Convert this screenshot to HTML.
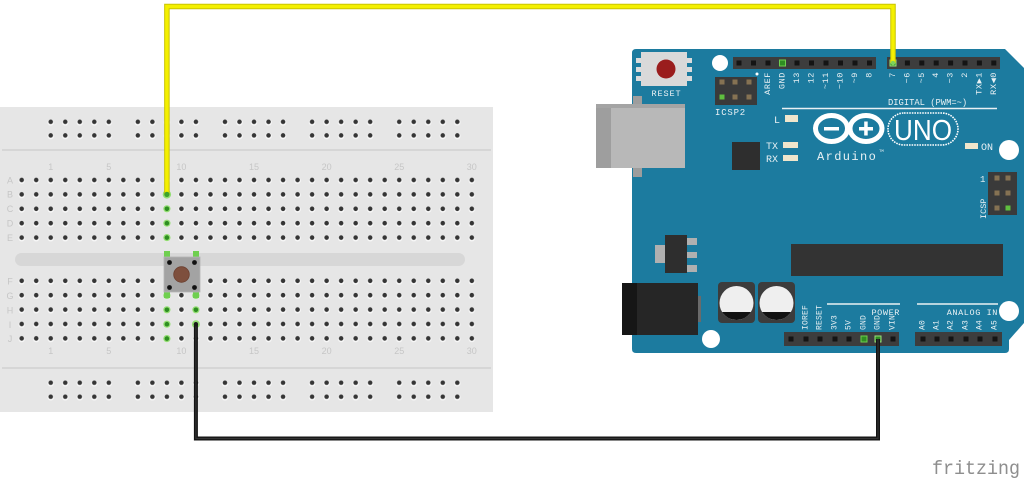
<!DOCTYPE html>
<html><head><meta charset="utf-8"><style>
html,body{margin:0;padding:0;background:#fff;}
svg{display:block;}
.m{font-family:"Liberation Mono",monospace;fill:#e9f1f4;}
.n{font-family:"Liberation Sans",sans-serif;fill:#c6c6c6;font-size:9px;}
</style></head><body>
<svg width="1024" height="485" viewBox="0 0 1024 485" xmlns="http://www.w3.org/2000/svg">
<defs>
<pattern id="h" x="14.44" y="172.8" width="14.52" height="14.4" patternUnits="userSpaceOnUse">
<circle cx="7.26" cy="7.8" r="3.2" fill="#f9f9f9"/><circle cx="7.26" cy="7.2" r="2.3" fill="#353535"/>
</pattern>
<pattern id="rt" x="14.44" y="115" width="14.52" height="13.6" patternUnits="userSpaceOnUse">
<circle cx="7.26" cy="7.4" r="3.2" fill="#f9f9f9"/><circle cx="7.26" cy="6.8" r="2.3" fill="#353535"/>
</pattern>
<pattern id="rb" x="14.44" y="375.7" width="14.52" height="14" patternUnits="userSpaceOnUse">
<circle cx="7.26" cy="7.6" r="3.2" fill="#f9f9f9"/><circle cx="7.26" cy="7" r="2.3" fill="#353535"/>
</pattern>
</defs>

<!-- Breadboard -->
<rect x="0" y="107" width="493" height="305" fill="#e6e6e6"/>
<line x1="2" y1="150" x2="491" y2="150" stroke="#d0d0d0" stroke-width="1.5"/>
<line x1="2" y1="368" x2="491" y2="368" stroke="#d0d0d0" stroke-width="1.5"/>
<rect x="15" y="253" width="450" height="13" rx="6.5" fill="#d7d7d7"/>

<!-- rails -->
<rect x="43.48" y="115" width="72.6" height="27.2" fill="url(#rt)"/>
<rect x="130.6" y="115" width="72.6" height="27.2" fill="url(#rt)"/>
<rect x="217.7" y="115" width="72.6" height="27.2" fill="url(#rt)"/>
<rect x="304.9" y="115" width="72.6" height="27.2" fill="url(#rt)"/>
<rect x="392.0" y="115" width="72.6" height="27.2" fill="url(#rt)"/>
<rect x="43.48" y="375.7" width="72.6" height="28" fill="url(#rb)"/>
<rect x="130.6" y="375.7" width="72.6" height="28" fill="url(#rb)"/>
<rect x="217.7" y="375.7" width="72.6" height="28" fill="url(#rb)"/>
<rect x="304.9" y="375.7" width="72.6" height="28" fill="url(#rb)"/>
<rect x="392.0" y="375.7" width="72.6" height="28" fill="url(#rb)"/>

<!-- main grid -->
<rect x="14.44" y="172.8" width="464.64" height="72" fill="url(#h)"/>
<rect x="14.44" y="273.6" width="464.64" height="72" fill="url(#h)"/>

<!-- row letters -->
<g class="n" text-anchor="middle">
<text x="10" y="183.5">A</text><text x="10" y="197.5">B</text><text x="10" y="212">C</text><text x="10" y="226.5">D</text><text x="10" y="241">E</text>
<text x="10" y="284.5">F</text><text x="10" y="299">G</text><text x="10" y="313.5">H</text><text x="10" y="328">I</text><text x="10" y="342">J</text>
<text x="50.7" y="170">1</text><text x="108.8" y="170">5</text><text x="181.4" y="170">10</text><text x="254" y="170">15</text><text x="326.6" y="170">20</text><text x="399.2" y="170">25</text><text x="471.8" y="170">30</text>
<text x="50.7" y="354">1</text><text x="108.8" y="354">5</text><text x="181.4" y="354">10</text><text x="254" y="354">15</text><text x="326.6" y="354">20</text><text x="399.2" y="354">25</text><text x="471.8" y="354">30</text>
</g>

<!-- green connected holes -->
<g>
<g fill="#93dd72"><circle cx="166.9" cy="208.8" r="3.6"/><circle cx="166.9" cy="223.2" r="3.6"/><circle cx="166.9" cy="237.6" r="3.6"/>
<circle cx="166.9" cy="309.8" r="3.6"/><circle cx="166.9" cy="324.2" r="3.6"/><circle cx="166.9" cy="338.6" r="3.6"/>
<circle cx="195.9" cy="309.8" r="3.6"/><circle cx="195.9" cy="324.2" r="4"/><circle cx="166.9" cy="194.4" r="4.2"/>
<circle cx="166.9" cy="295.4" r="3.6"/><circle cx="195.9" cy="295.4" r="3.6"/></g>
<g fill="#2f8e22"><circle cx="166.9" cy="208.8" r="2.3"/><circle cx="166.9" cy="223.2" r="2.3"/><circle cx="166.9" cy="237.6" r="2.3"/>
<circle cx="166.9" cy="309.8" r="2.3"/><circle cx="166.9" cy="324.2" r="2.3"/><circle cx="166.9" cy="338.6" r="2.3"/>
<circle cx="195.9" cy="309.8" r="2.3"/></g>
</g>

<!-- push button -->
<rect x="164" y="251" width="6" height="7" fill="#6fcf4f"/>
<rect x="193" y="251" width="6" height="7" fill="#6fcf4f"/>
<rect x="164" y="291" width="6" height="7" fill="#6fcf4f"/>
<rect x="193" y="291" width="6" height="7" fill="#6fcf4f"/>
<rect x="164" y="257" width="36" height="35" fill="#a3a3a3" stroke="#b3b3b3" stroke-width="0.8"/>
<circle cx="181.5" cy="274.5" r="7.8" fill="#7e4f3d" stroke="#6b3f2f" stroke-width="0.8"/>
<circle cx="169.5" cy="262.5" r="2.4" fill="#111"/><circle cx="194.5" cy="262.5" r="2.4" fill="#111"/>
<circle cx="169.5" cy="287.5" r="2.4" fill="#111"/><circle cx="194.5" cy="287.5" r="2.4" fill="#111"/>

<!-- Arduino board -->
<path d="M636,49 L1005,49 L1024,68 L1024,323 L1009,340 L1009,349 Q1009,353 1005,353 L636,353 Q632,353 632,349 L632,53 Q632,49 636,49 Z" fill="#1c7b9f"/>

<!-- USB -->
<rect x="633" y="96" width="9" height="8" fill="#9d9d9d"/>
<rect x="633" y="167" width="9" height="10" fill="#9d9d9d"/>
<rect x="596" y="104" width="89" height="64" fill="#b8b8b8"/>
<rect x="596" y="104" width="15" height="64" fill="#9e9e9e"/>
<rect x="596" y="104" width="89" height="4" fill="#a4a4a4"/>

<!-- Reset button -->
<rect x="636" y="58" width="6" height="5" fill="#dcdcdc"/><rect x="636" y="67" width="6" height="5" fill="#dcdcdc"/><rect x="636" y="76" width="6" height="5" fill="#dcdcdc"/>
<rect x="686" y="58" width="6" height="5" fill="#dcdcdc"/><rect x="686" y="67" width="6" height="5" fill="#dcdcdc"/><rect x="686" y="76" width="6" height="5" fill="#dcdcdc"/>
<rect x="641" y="52" width="46" height="34" fill="#d9d9d9"/>
<circle cx="666" cy="69" r="9.5" fill="#9a1d1d"/>
<text class="m" x="666.5" y="96" font-size="8.5" text-anchor="middle" letter-spacing="0.9">RESET</text>

<!-- mounting holes -->
<circle cx="720" cy="63" r="8" fill="#fff"/>
<circle cx="1009" cy="150" r="10" fill="#fff"/>
<circle cx="1009" cy="311" r="10" fill="#fff"/>
<circle cx="711" cy="339" r="9" fill="#fff"/>
<circle cx="757" cy="74" r="1.5" fill="#fff"/>

<!-- top headers -->
<rect x="733" y="57" width="143" height="12" fill="#3d3d3d"/>
<g fill="#141414">
<rect x="736.5" y="60.5" width="5" height="5"/><rect x="751" y="60.5" width="5" height="5"/><rect x="765.5" y="60.5" width="5" height="5"/>
<rect x="794.5" y="60.5" width="5" height="5"/><rect x="809" y="60.5" width="5" height="5"/><rect x="823.5" y="60.5" width="5" height="5"/><rect x="838" y="60.5" width="5" height="5"/><rect x="852.5" y="60.5" width="5" height="5"/><rect x="867" y="60.5" width="5" height="5"/>
</g>
<rect x="779.5" y="60" width="6" height="6" fill="#2f8e22" stroke="#6fcf4f" stroke-width="1"/>
<rect x="887" y="57" width="113" height="12" fill="#3d3d3d"/>
<g fill="#141414">
<rect x="904.9" y="60.5" width="5" height="5"/><rect x="919.3" y="60.5" width="5" height="5"/><rect x="933.7" y="60.5" width="5" height="5"/><rect x="948.1" y="60.5" width="5" height="5"/><rect x="962.5" y="60.5" width="5" height="5"/><rect x="976.9" y="60.5" width="5" height="5"/><rect x="991.3" y="60.5" width="5" height="5"/>
</g>
<rect x="890" y="60" width="6" height="6" fill="#2f8e22" stroke="#9be07a" stroke-width="1"/>

<!-- top labels -->
<g class="m" font-size="8.5" text-anchor="end" dominant-baseline="central" letter-spacing="0.6">
<text transform="translate(768,72) rotate(-90)">AREF</text>
<text transform="translate(782.5,72) rotate(-90)">GND</text>
<text transform="translate(797,72) rotate(-90)">13</text>
<text transform="translate(811.5,72) rotate(-90)">12</text>
<text transform="translate(826,72) rotate(-90)">~11</text>
<text transform="translate(840.5,72) rotate(-90)">~10</text>
<text transform="translate(855,72) rotate(-90)">~9</text>
<text transform="translate(869.5,72) rotate(-90)">8</text>
<text transform="translate(893,72) rotate(-90)">7</text>
<text transform="translate(907.4,72) rotate(-90)">~6</text>
<text transform="translate(921.8,72) rotate(-90)">~5</text>
<text transform="translate(936.2,72) rotate(-90)">4</text>
<text transform="translate(950.6,72) rotate(-90)">~3</text>
<text transform="translate(965,72) rotate(-90)">2</text>
<text transform="translate(979.4,72) rotate(-90)">TX▶1</text>
<text transform="translate(993.8,72) rotate(-90)">RX◀0</text>
</g>
<text class="m" x="888" y="105" font-size="8.8">DIGITAL (PWM=~)</text>
<line x1="782" y1="108.5" x2="997" y2="108.5" stroke="#e9f1f4" stroke-width="1.5"/>

<!-- ICSP2 -->
<rect x="715" y="77" width="42" height="28" fill="#3a3a3a"/>
<g fill="#857253">
<rect x="719.5" y="79.5" width="5" height="5"/><rect x="732.5" y="79.5" width="5" height="5"/><rect x="746.5" y="79.5" width="5" height="5"/>
<rect x="732.5" y="94.5" width="5" height="5"/><rect x="746.5" y="94.5" width="5" height="5"/>
</g>
<rect x="719.5" y="94.5" width="5" height="5" fill="#5fbf3f"/>
<text class="m" x="715" y="115" font-size="9" letter-spacing="0.8">ICSP2</text>

<!-- LEDs -->
<text class="m" x="774" y="123" font-size="10">L</text>
<rect x="785" y="115" width="13" height="7" fill="#efe6cc"/>
<text class="m" x="766" y="149" font-size="10">TX</text>
<rect x="783" y="142" width="15" height="6" fill="#efe6cc"/>
<text class="m" x="766" y="162" font-size="10">RX</text>
<rect x="783" y="155" width="15" height="6" fill="#efe6cc"/>
<rect x="965" y="143" width="13" height="6" fill="#efe6cc"/>
<text class="m" x="981" y="150" font-size="10">ON</text>

<!-- chip small -->
<rect x="732" y="142" width="28" height="28" fill="#2e2e2e"/>

<!-- Arduino logo -->
<ellipse cx="831.5" cy="128.5" rx="16" ry="13" fill="none" stroke="#fff" stroke-width="5"/>
<ellipse cx="866" cy="128.5" rx="16" ry="13" fill="none" stroke="#fff" stroke-width="5"/>
<rect x="824" y="127" width="15" height="3.5" fill="#fff"/>
<rect x="859" y="127" width="14" height="3.5" fill="#fff"/>
<rect x="864.2" y="121.5" width="3.5" height="14" fill="#fff"/>
<text class="m" x="817" y="160" font-size="12" letter-spacing="1.4" fill="#fff">Arduino</text>
<text class="m" x="879" y="152" font-size="4">TM</text>
<rect x="888" y="113" width="70" height="32" rx="16" fill="none" stroke="#fff" stroke-width="1.6" stroke-dasharray="1.6 1"/>
<text x="923" y="140" font-family="Liberation Sans,sans-serif" font-size="29" fill="#fff" text-anchor="middle" textLength="58" lengthAdjust="spacingAndGlyphs">UNO</text>

<!-- ICSP right -->
<rect x="988" y="172" width="29" height="43" fill="#3a3a3a"/>
<g fill="#857253">
<rect x="994.5" y="175.5" width="5" height="5"/><rect x="1005.5" y="175.5" width="5" height="5"/>
<rect x="994.5" y="190.5" width="5" height="5"/><rect x="1005.5" y="190.5" width="5" height="5"/>
<rect x="994.5" y="205.5" width="5" height="5"/>
</g>
<rect x="1005.5" y="205.5" width="5" height="5" fill="#5fbf3f"/>
<text class="m" x="980" y="182" font-size="9">1</text>
<text class="m" font-size="8.5" text-anchor="start" dominant-baseline="central" transform="translate(984,219) rotate(-90)">ICSP</text>

<!-- regulator -->
<rect x="655" y="245" width="11" height="18" fill="#b0b0b0"/>
<rect x="687" y="238" width="10" height="7" fill="#b0b0b0"/>
<rect x="687" y="252" width="10" height="6" fill="#b0b0b0"/>
<rect x="687" y="265" width="10" height="7" fill="#b0b0b0"/>
<rect x="665" y="235" width="22" height="38" fill="#2e2e2e"/>

<!-- big chip -->
<rect x="791" y="244" width="212" height="32" fill="#333"/>

<!-- power jack -->
<rect x="698" y="296" width="3" height="26" fill="#6a6a6a"/>
<rect x="622" y="283" width="76" height="52" fill="#262626"/>
<rect x="622" y="283" width="15" height="52" fill="#161616"/>

<!-- capacitors -->
<rect x="718" y="282" width="37" height="41" rx="4" fill="#3c3c3c"/>
<circle cx="736.5" cy="303" r="17" fill="#efefef"/>
<path d="M722.1,312 A17,17 0 0 0 750.9,312 Z" fill="#111"/>
<rect x="758" y="282" width="37" height="41" rx="4" fill="#3c3c3c"/>
<circle cx="776.5" cy="303" r="17" fill="#efefef"/>
<path d="M762.1,312 A17,17 0 0 0 790.9,312 Z" fill="#111"/>

<!-- bottom headers -->
<rect x="784" y="332" width="115" height="14" fill="#3d3d3d"/>
<g fill="#141414">
<rect x="788.5" y="336.5" width="5" height="5"/><rect x="803.5" y="336.5" width="5" height="5"/><rect x="817.5" y="336.5" width="5" height="5"/><rect x="832.5" y="336.5" width="5" height="5"/><rect x="846.5" y="336.5" width="5" height="5"/><rect x="890.5" y="336.5" width="5" height="5"/>
</g>
<rect x="861" y="336" width="6" height="6" fill="#2f8e22" stroke="#6fcf4f" stroke-width="1"/>
<rect x="875" y="336" width="6" height="6" fill="#2f8e22" stroke="#9be07a" stroke-width="1"/>
<rect x="915" y="332" width="87" height="14" fill="#3d3d3d"/>
<g fill="#141414">
<rect x="920.5" y="336.5" width="5" height="5"/><rect x="934.5" y="336.5" width="5" height="5"/><rect x="948.5" y="336.5" width="5" height="5"/><rect x="963.5" y="336.5" width="5" height="5"/><rect x="977.5" y="336.5" width="5" height="5"/><rect x="992.5" y="336.5" width="5" height="5"/>
</g>

<line x1="827" y1="304" x2="900" y2="304" stroke="#e9f1f4" stroke-width="1.5"/>
<line x1="917" y1="304" x2="998" y2="304" stroke="#e9f1f4" stroke-width="1.5"/>
<text class="m" x="900" y="315" font-size="8.5" text-anchor="end" letter-spacing="0.6">POWER</text>
<text class="m" x="998" y="315" font-size="8.5" text-anchor="end" letter-spacing="0.6">ANALOG IN</text>

<g class="m" font-size="8" text-anchor="start" dominant-baseline="central" letter-spacing="0.2">
<text transform="translate(806,330) rotate(-90)">IOREF</text>
<text transform="translate(820,330) rotate(-90)">RESET</text>
<text transform="translate(835,330) rotate(-90)">3V3</text>
<text transform="translate(849,330) rotate(-90)">5V</text>
<text transform="translate(864,330) rotate(-90)">GND</text>
<text transform="translate(878,330) rotate(-90)">GND</text>
<text transform="translate(893,330) rotate(-90)">VIN</text>
<text transform="translate(923,330) rotate(-90)">A0</text>
<text transform="translate(937,330) rotate(-90)">A1</text>
<text transform="translate(951,330) rotate(-90)">A2</text>
<text transform="translate(966,330) rotate(-90)">A3</text>
<text transform="translate(980,330) rotate(-90)">A4</text>
<text transform="translate(995,330) rotate(-90)">A5</text>
</g>

<!-- yellow wire -->
<path d="M166.9,194.4 L166.9,6.5 L893,6.5 L893,63" fill="none" stroke="#c9c400" stroke-width="5.5"/>
<path d="M166.9,194.4 L166.9,6.5 L893,6.5 L893,63" fill="none" stroke="#f4f000" stroke-width="3.5"/>
<circle cx="166.9" cy="194.4" r="2.6" fill="#3da22a"/>
<circle cx="893" cy="63" r="2.2" fill="#7fd05a"/>

<!-- black wire -->
<path d="M195.9,324.2 L195.9,438.5 L878,438.5 L878,339" fill="none" stroke="#141414" stroke-width="4"/>
<path d="M195.9,324.2 L195.9,438.5 L878,438.5 L878,339" fill="none" stroke="#333" stroke-width="1.2"/>
<circle cx="195.9" cy="324.2" r="2.2" fill="#1a1a1a"/>

<!-- fritzing logo -->
<text x="932" y="474" font-family="Liberation Mono,monospace" font-size="19" fill="#8e8e8e" textLength="88" lengthAdjust="spacingAndGlyphs">fritzing</text>
</svg>
</body></html>
